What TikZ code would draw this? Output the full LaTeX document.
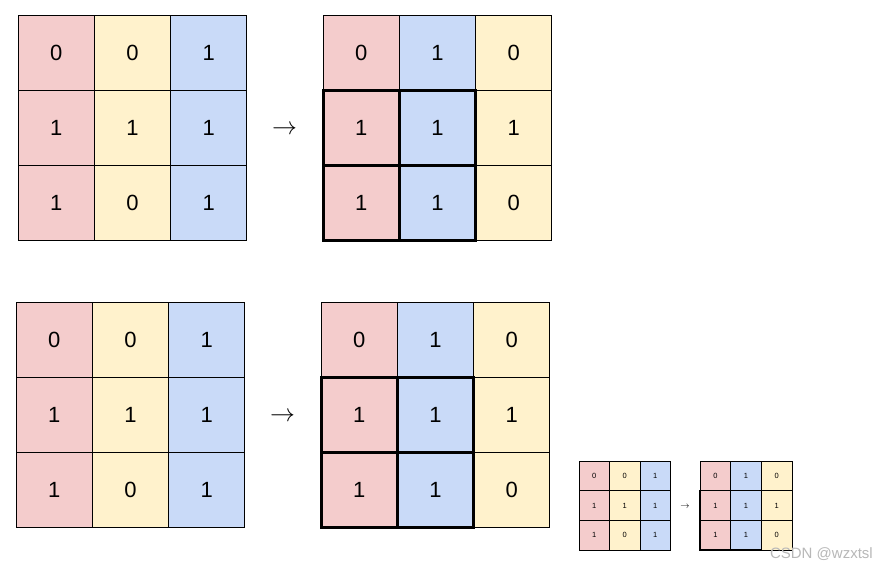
\documentclass[tikz,border=0pt]{standalone}
\usepackage{fontspec}
\setmainfont{Liberation Sans}
\definecolor{cred}{HTML}{F4CCCC}
\definecolor{cyel}{HTML}{FFF2CC}
\definecolor{cblu}{HTML}{C9DAF8}
\newcommand{\drawgrid}[7]{%
  \foreach \c/\r/\v/\f in {#7} {
    \node[cell, fill=\f, minimum width=#4pt, minimum height=#5pt,
          font=\fontsize{#6pt}{#6pt}\selectfont]
      (#1-\r-\c) at ({#2+(\c+0.5)*#4},{#3+(\r+0.5)*#5}) {\v};
  }
}
\newcommand{\boldblock}[2]{%
  \draw[hl] (#1-1-0.north west) rectangle (#1-2-1.south east);
  \draw[hl] (#1-1-1.north west) -- (#1-2-1.south west);
  \draw[hl] (#1-2-0.north west) -- (#1-2-1.north east);
}
\tikzset{
  cell/.style={draw=black, line width=#1, inner sep=0pt, outer sep=0pt, text=black},
  cell/.default=1pt,
  hl/.style={draw=black, line width=3pt, line cap=rect},
  arrowtxt/.style={inner sep=0pt, text=black},
  wm/.style={inner sep=0pt, text=black!28, font=\fontsize{15pt}{15pt}\selectfont, anchor=east}
}
\begin{document}
\begin{tikzpicture}[x=1pt,y=-1pt]
\useasboundingbox[fill=white] (0,0) rectangle (878,568);
% top-left
\drawgrid{A}{18}{15}{76.3}{75}{22}{0/0/0/cred,1/0/0/cyel,2/0/1/cblu,0/1/1/cred,1/1/1/cyel,2/1/1/cblu,0/2/1/cred,1/2/0/cyel,2/2/1/cblu}
% top-right
\drawgrid{B}{323}{15}{76.3}{75}{22}{0/0/0/cred,1/0/1/cblu,2/0/0/cyel,0/1/1/cred,1/1/1/cblu,2/1/1/cyel,0/2/1/cred,1/2/1/cblu,2/2/0/cyel}
\boldblock{B}{}
% bottom-left
\drawgrid{C}{16}{302}{76.3}{75.3}{22}{0/0/0/cred,1/0/0/cyel,2/0/1/cblu,0/1/1/cred,1/1/1/cyel,2/1/1/cblu,0/2/1/cred,1/2/0/cyel,2/2/1/cblu}
% bottom-right
\drawgrid{D}{321}{302}{76.3}{75.3}{22}{0/0/0/cred,1/0/1/cblu,2/0/0/cyel,0/1/1/cred,1/1/1/cblu,2/1/1/cyel,0/2/1/cred,1/2/1/cblu,2/2/0/cyel}
\boldblock{D}{}
% small left
\tikzset{cell/.default=0.6pt}
\drawgrid{E}{579}{461}{30.5}{29.7}{7.5}{0/0/0/cred,1/0/0/cyel,2/0/1/cblu,0/1/1/cred,1/1/1/cyel,2/1/1/cblu,0/2/1/cred,1/2/0/cyel,2/2/1/cblu}
% small right
\drawgrid{F}{700}{461}{30.7}{29.7}{7.5}{0/0/0/cred,1/0/1/cblu,2/0/0/cyel,0/1/1/cred,1/1/1/cblu,2/1/1/cyel,0/2/1/cred,1/2/1/cblu,2/2/0/cyel}
\draw[hl, line width=1.3pt] (F-1-0.north west) rectangle (F-2-1.south east);
\draw[hl, line width=1.3pt] (F-1-1.north west) -- (F-2-1.south west);
\draw[hl, line width=1.3pt] (F-2-0.north west) -- (F-2-1.north east);
% arrows (text)
\node[arrowtxt, font=\fontsize{26pt}{26pt}\selectfont] (arrTop) at (284.5,130) {$\rightarrow$};
\node[arrowtxt, font=\fontsize{26pt}{26pt}\selectfont] (arrBot) at (282.5,417) {$\rightarrow$};
\node[arrowtxt, font=\fontsize{9.5pt}{9.5pt}\selectfont] (arrSmall) at (685,507) {$\rightarrow$};
% watermark
\node[wm] (wmark) at (873,554) {CSDN @wzxtsl};
\end{tikzpicture}
\end{document}
